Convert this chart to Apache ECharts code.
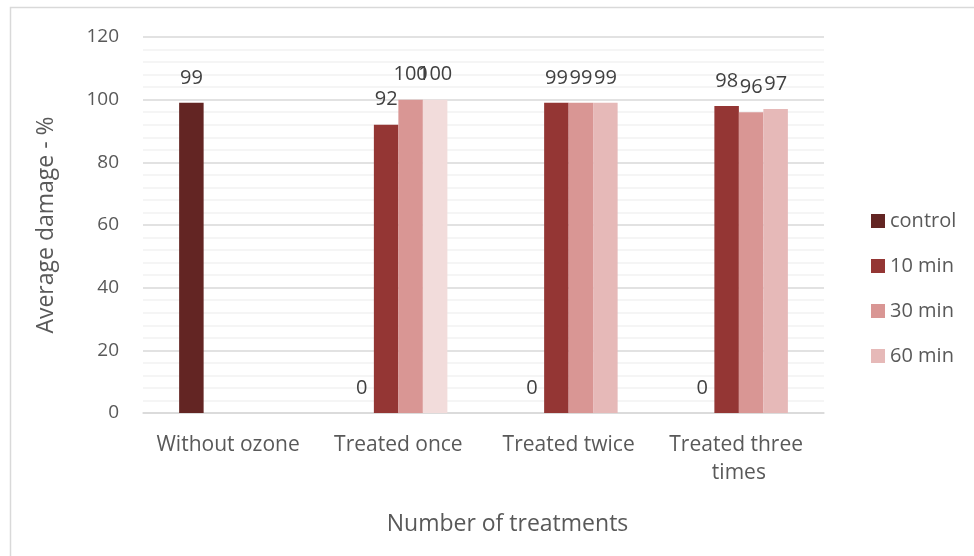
<!DOCTYPE html>
<html>
<head>
<meta charset="utf-8">
<script src="https://cdn.jsdelivr.net/npm/echarts@6/dist/echarts.min.js"></script>
<style>
html,body{margin:0;padding:0;background:#fff;}
#chart{width:974px;height:556px;}
</style>
</head>
<body>
<div id="chart"></div>
<script>
const categories = ['Without ozone', 'Treated once', 'Treated twice', 'Treated three times'];
const seriesNames = ['control', '10 min', '30 min', '60 min'];
const controlValues = [99, 0, 0, 0];
const min10Values = [null, 92, 99, 98];
const min30Values = [null, 100, 99, 96];
const min60Values = [null, 100, 99, 97];
const yTicks = [0, 20, 40, 60, 80, 100, 120];

const colors = ['#632523', '#943634', '#d99694', '#e6b9b8'];
const pointColorOverrides = { 3: { 1: '#f2dcdb' } };
const FONT = "'Open Sans', sans-serif";

const allValues = [controlValues, min10Values, min30Values, min60Values];

const chart = echarts.init(document.getElementById('chart'));
const option = {
  animation: false,
  backgroundColor: '#ffffff',
  textStyle: { fontFamily: FONT },
  graphic: [{
    type: 'rect',
    shape: { x: 10.5, y: 7.5, width: 1000, height: 600 },
    style: { fill: 'none', stroke: '#d9d9d9', lineWidth: 1.5 },
    silent: true
  }],
  grid: { left: 143, right: 150, top: 37, bottom: 143, containLabel: false },
  legend: {
    orient: 'vertical',
    left: 866,
    top: 206,
    itemWidth: 14,
    itemHeight: 14,
    itemGap: 25,
    icon: 'rect',
    data: seriesNames,
    textStyle: { fontFamily: FONT, fontSize: 20, color: '#595959', lineHeight: 20 }
  },
  xAxis: {
    type: 'category',
    data: categories,
    name: 'Number of treatments',
    nameLocation: 'middle',
    nameGap: 100,
    nameTextStyle: { fontFamily: FONT, fontSize: 23, color: '#595959', padding: [0, 0, 0, 48] },
    axisLine: { show: true, lineStyle: { color: '#d9d9d9', width: 1.5 } },
    axisTick: { show: false },
    axisLabel: {
      fontFamily: FONT, fontSize: 21, color: '#595959', margin: 18,
      lineHeight: 28, width: 165, overflow: 'break', interval: 0
    }
  },
  yAxis: {
    type: 'value',
    min: yTicks[0],
    max: yTicks[yTicks.length - 1],
    interval: yTicks[1] - yTicks[0],
    name: 'Average damage - %',
    nameLocation: 'middle',
    nameGap: 85,
    nameRotate: 90,
    nameTextStyle: { fontFamily: FONT, fontSize: 23, color: '#595959' },
    axisLine: { show: false },
    axisTick: { show: false },
    axisLabel: { fontFamily: FONT, fontSize: 19, color: '#595959', margin: 24 },
    splitLine: { show: true, lineStyle: { color: '#d9d9d9', width: 1.5 } },
    minorTick: { show: false, splitNumber: 5 },
    minorSplitLine: { show: true, lineStyle: { color: '#f2f2f2', width: 1.5 } }
  },
  series: seriesNames.map((name, si) => ({
    name: name,
    type: 'bar',
    barWidth: 24.5,
    barGap: '0%',
    itemStyle: { color: colors[si] },
    label: {
      show: true,
      position: 'top',
      distance: 15,
      fontFamily: FONT,
      fontSize: 20,
      color: '#404040',
      formatter: p => (p.value === null || p.value === undefined) ? '' : String(p.value)
    },
    data: allValues[si].map((v, ci) => {
      const ov = pointColorOverrides[si] && pointColorOverrides[si][ci];
      return ov ? { value: v, itemStyle: { color: ov } } : v;
    })
  }))
};
chart.setOption(option);
</script>
</body>
</html>
